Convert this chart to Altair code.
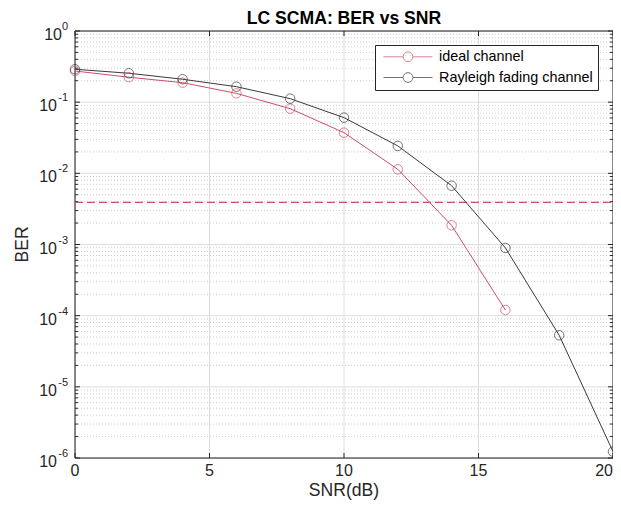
import altair as alt
import pandas as pd

FONT = "Liberation Sans"

snr_ideal = [0, 2, 4, 6, 8, 10, 12, 14, 16]
ber_ideal = [0.274, 0.224, 0.188, 0.133, 0.081, 0.0373, 0.0114, 0.00186, 0.00012]
snr_ray = [0, 2, 4, 6, 8, 10, 12, 14, 16, 18, 20]
ber_ray = [0.29, 0.255, 0.21, 0.165, 0.112, 0.0606, 0.0243, 0.0067, 0.000895, 0.000053, 0.00000123]
series = ["ideal channel", "Rayleigh fading channel"]
colors = ["#cd4f67", "#3a3a3a"]
threshold = [0.0039]
x_ticks = [0, 5, 10, 15, 20]
y_exponents = [0, -1, -2, -3, -4, -5, -6]
minor_mult = [2, 3, 4, 5, 6, 7, 8, 9]
title_text = "LC SCMA: BER vs SNR"
x_title = "SNR(dB)"
y_title = "BER"

W, H = 538, 427
INK = "#262626"

df = pd.concat(
    [
        pd.DataFrame({"snr": snr_ideal, "ber": ber_ideal, "series": series[0]}),
        pd.DataFrame({"snr": snr_ray, "ber": ber_ray, "series": series[1]}),
    ],
    ignore_index=True,
)
dec = pd.DataFrame(
    {
        "v": [10.0 ** e for e in y_exponents],
        "e": [str(e) for e in y_exponents],
        "base": ["10"] * len(y_exponents),
    }
)
minor = pd.DataFrame(
    {"v": [m * 10.0 ** e for e in y_exponents[1:] for m in minor_mult]}
)
xt = pd.DataFrame({"v": x_ticks, "lab": [str(t) for t in x_ticks]})
thr = pd.DataFrame({"v": threshold})
one = pd.DataFrame({"a": [0]})

x_scale = alt.Scale(domain=[0, 20], nice=False, zero=False)
y_scale = alt.Scale(type="log", domain=[1e-6, 1], nice=False)

legend = alt.Legend(
    title=None, orient="none", legendX=300, legendY=14, direction="vertical",
    fillColor="white", strokeColor=INK, padding=5, symbolOffset=3,
    symbolType="M-1,0L-0.2,0M0.2,0L1,0M0.2,0A0.2,0.2,0,1,1,-0.2,0A0.2,0.2,0,1,1,0.2,0",
    symbolSize=2401, symbolStrokeWidth=1, symbolFillColor="transparent",
    labelFont=FONT, labelFontSize=14.4, labelColor="#000000", labelOffset=6,
    clipHeight=13.6, rowPadding=4.7,
)
color = alt.Color(
    "series:N", scale=alt.Scale(domain=series, range=colors), legend=legend
)

def Y(field="v"):
    return alt.Y(f"{field}:Q", scale=y_scale, axis=None)

def X(field="v"):
    return alt.X(f"{field}:Q", scale=x_scale, axis=None)

# grids
x_grid = alt.Chart(xt).mark_rule(color="#dedede", strokeWidth=1).encode(
    x=X(), y=alt.value(0), y2=alt.value(H)
)
y_grid = alt.Chart(dec).mark_rule(color="#dedede", strokeWidth=1).encode(
    y=Y(), x=alt.value(0), x2=alt.value(W)
)
minor_grid = alt.Chart(minor).mark_rule(
    strokeDash=[1, 2], color="#bfbfbf", strokeWidth=0.8
).encode(y=Y(), x=alt.value(0), x2=alt.value(W))

def yticks(data, x0, x1):
    return alt.Chart(data).mark_rule(color=INK, strokeWidth=1).encode(
        y=Y(), x=alt.value(x0), x2=alt.value(x1)
    )

def xticks(y0, y1):
    return alt.Chart(xt).mark_rule(color=INK, strokeWidth=1).encode(
        x=X(), y=alt.value(y0), y2=alt.value(y1)
    )

thr_line = alt.Chart(thr).mark_rule(
    strokeDash=[8, 4], color="#cd4f67", strokeWidth=1.2
).encode(y=Y(), x=alt.value(0), x2=alt.value(W))

frame = alt.Chart(one).mark_rect(
    fillOpacity=0, stroke=INK, strokeWidth=1
).encode(x=alt.value(0), x2=alt.value(W), y=alt.value(0), y2=alt.value(H))

lines = alt.Chart(df).mark_line(strokeWidth=1).encode(
    x=X("snr"), y=Y("ber"), color=color
)
points = alt.Chart(df).mark_point(filled=False, size=90, strokeWidth=1).encode(
    x=X("snr"), y=Y("ber"), color=color
)

# tick labels
base_text = alt.Chart(dec).mark_text(
    align="right", baseline="alphabetic", dy=9, fontSize=16, font=FONT, color=INK
)
base0 = base_text.transform_filter("datum.e == '0'").encode(
    y=Y(), x=alt.value(-13), text="base:N"
)
base_rest = base_text.transform_filter("datum.e != '0'").encode(
    y=Y(), x=alt.value(-18), text="base:N"
)
expo = alt.Chart(dec).mark_text(
    align="right", baseline="alphabetic", dy=-1, fontSize=11, font=FONT, color=INK
).encode(y=Y(), x=alt.value(-7), text="e:N")
x_labels = alt.Chart(xt).mark_text(
    align="center", baseline="top", fontSize=16, font=FONT, color=INK
).transform_filter("datum.v < 20").encode(
    x=X(), y=alt.value(H + 5), text="lab:N"
)
x_label_last = alt.Chart(xt).mark_text(
    align="right", baseline="top", fontSize=16, font=FONT, color=INK
).transform_filter("datum.v == 20").encode(
    x=X(), y=alt.value(H + 5), text="lab:N"
)

# titles
x_title_mark = alt.Chart(one).mark_text(
    align="center", baseline="alphabetic", fontSize=17.6, font=FONT, color=INK
).encode(x=alt.value(W / 2), y=alt.value(H + 38), text=alt.value(x_title))
y_title_mark = alt.Chart(one).mark_text(
    align="center", baseline="alphabetic", fontSize=17.6, font=FONT, color=INK,
    angle=270,
).encode(x=alt.value(-47), y=alt.value(H / 2), text=alt.value(y_title))
title_mark = alt.Chart(one).mark_text(
    align="center", baseline="alphabetic", fontSize=17.6, font=FONT,
    fontWeight="bold", color="#000000",
).encode(x=alt.value(W / 2), y=alt.value(-7), text=alt.value(title_text))

chart = alt.layer(
    x_grid, y_grid, minor_grid,
    yticks(dec, 0, 5), yticks(minor, 0, 3),
    yticks(dec, W - 5, W), yticks(minor, W - 3, W),
    xticks(H - 5, H), xticks(0, 5),
    frame, thr_line, lines, points,
    base0, base_rest, expo, x_labels, x_label_last,
    x_title_mark, y_title_mark, title_mark,
).properties(
    width=W, height=H,
    padding={"left": 67, "top": 23, "right": 0, "bottom": 43},
    autosize=alt.AutoSizeParams(type="none"),
).configure_view(stroke="transparent").configure(background="white")

chart.save("out.html", embed_options={"renderer": "svg", "actions": False})
